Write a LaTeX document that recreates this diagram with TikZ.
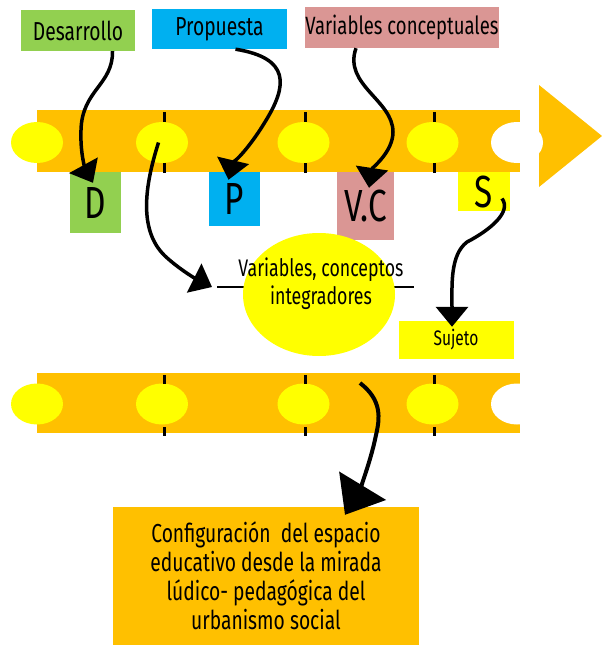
\documentclass[tikz,border=0pt]{standalone}
\usepackage{fontspec}
\setmainfont[FakeStretch=0.74]{Fira Sans}
\usetikzlibrary{arrows.meta,shapes.geometric}
\definecolor{naranja}{HTML}{FFC000}
\definecolor{amarillo}{HTML}{FFFF00}
\definecolor{verde}{HTML}{92D050}
\definecolor{azul}{HTML}{00B0F0}
\definecolor{rosa}{HTML}{DA9694}

\begin{document}
\begin{tikzpicture}[x=1pt,y=-1pt,
        etiq/.style={inner sep=0pt,font=\fontsize{26}{29}\selectfont},
        letra/.style={inner sep=0pt,font=\fontsize{45}{45}\selectfont},
        bola/.style={ellipse,fill=amarillo,minimum width=52pt,minimum height=41pt,inner sep=0pt},
        flecha/.style={line width=3.5pt,-{Triangle[length=20pt,width=32pt]}}]
                \useasboundingbox (0,0) rectangle (602,645);
                \fill[naranja] (37,110) rectangle (520,172);
                \fill[naranja] (539,85) -- (602,136) -- (539,187) -- cycle;
                \fill[naranja] (37,373) rectangle (520,433);
                \foreach \y/\f in {142.5/a,404/b} {
                    \foreach \x [count=\i] in {37,162,303.5,432.5}
                        \node[bola] (c\f\i) at (\x,\y) {};
                    \node[bola,fill=white] (c\f5) at (517,\y) {};
                }
                \foreach \x in {164,305,434}
                    \draw[line width=3pt] (\x,112) -- (\x,122) (\x,163) -- (\x,173) (\x,375) -- (\x,384) (\x,427) -- (\x,436);

                \node[etiq,fill=verde,minimum width=114pt,minimum height=41pt] (des) at (78,30.5) {Desarrollo};
                \node[etiq,fill=azul,minimum width=135pt,minimum height=40pt] (pro) at (219.5,29) {Propuesta};
                \node[etiq,fill=rosa,minimum width=194pt,minimum height=41pt,font=\fontsize{25}{29}\selectfont] (var) at (402,27.5) {Variables conceptuales};
                \node[letra,fill=verde,minimum width=51pt,minimum height=61pt] (D) at (95,202.5) {D};
                \node[letra,fill=azul,minimum width=51pt,minimum height=54pt] (P) at (234,199) {P};
                \node[letra,fill=rosa,minimum width=57pt,minimum height=68pt] (VC) at (365.5,206) {V.C};
                \node[letra,fill=amarillo,minimum width=52pt,minimum height=39pt] (S) at (484,191.5) {S};

                \coordinate (li) at (217,287);
                \coordinate (ld) at (414,287);
                \draw[line width=2.5pt] (li) -- (ld);
                \node[ellipse,fill=amarillo,minimum width=152pt,minimum height=123pt] (vci) at (319,294.5) {};
                \node[etiq,align=center,font=\fontsize{24}{28}\selectfont] (tvci) at (321,284) {Variables, conceptos\\integradores};
                \node[inner sep=0pt,font=\fontsize{21}{21}\selectfont,fill=amarillo,minimum width=115pt,minimum height=38pt] (suj) at (456,340) {Sujeto};
                \node[etiq,fill=naranja,minimum width=306pt,minimum height=138pt,align=center] (conf) at (266,576)
                    {Configuración~ del espacio\\educativo desde la mirada\\lúdico- pedagógica del\\urbanismo social};

                \draw[flecha] ([xshift=34.5pt]des.south) .. controls (113,85) and (82,90) .. (81,130) .. controls (80,155) and (86,170) .. ([xshift=-2pt,yshift=-11pt]D.north);
                \draw[flecha] ([xshift=16pt]pro.south) .. controls (290,58) and (288,85) .. (265,122) .. controls (248,150) and (232,165) .. ([xshift=-5.5pt,yshift=-8pt]P.north);
                \draw[flecha] ([xshift=-46pt]var.south) .. controls (343,85) and (393,100) .. (393,132) .. controls (393,152) and (372,168) .. ([xshift=3.5pt,yshift=-16pt]VC.north);
                \draw[flecha] ([xshift=-3.5pt]ca2.center) .. controls (145,185) and (138,230) .. (165,256) .. controls (180,270) and (198,280) .. ([xshift=-5pt]li);
                \draw[flecha] ([xshift=18pt,yshift=-7pt]S.center) .. controls (512,212) and (490,230) .. (467,242) .. controls (450,255) and (452,285) .. ([xshift=-4pt,yshift=-6pt]suj.north);
                \draw[line width=4pt,-{Triangle[length=34pt,width=54pt]}] ([xshift=56.5pt,yshift=21pt]cb3.center) .. controls (382,400) and (380,418) .. (376,435) .. controls (370,465) and (357,495) .. ([xshift=79pt,yshift=-8pt]conf.north);
            \end{tikzpicture}
\end{document}
